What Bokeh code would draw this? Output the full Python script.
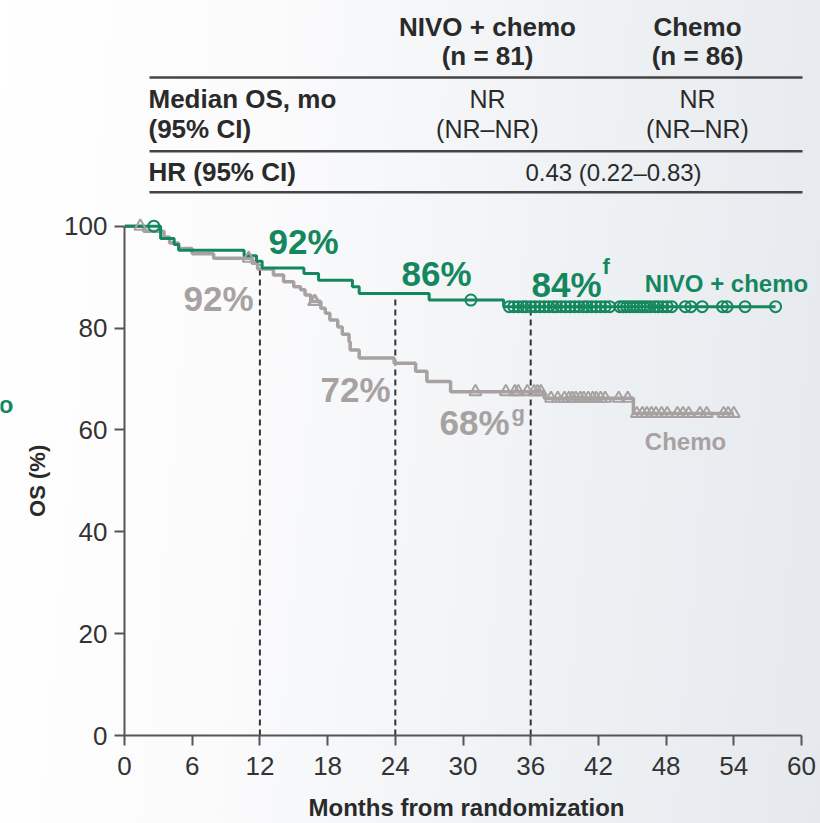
import numpy as np
from bokeh.plotting import figure
from bokeh.layouts import row
from bokeh.models import Range1d, Label, FixedTicker
from bokeh.core.properties import value
from bokeh.embed import file_html
from bokeh.resources import INLINE

# ---------------- data ----------------
nivo_time = [0, 3.2, 4.4, 4.8, 10.6, 11.7, 12.2, 15.9, 17.2, 20.2, 20.8, 27.0, 33.6, 57.7]
nivo_surv = [100, 97.6, 96.4, 95.3, 94.2, 93.1, 91.8, 90.7, 89.4, 88.1, 86.8, 85.5, 84.2, 84.2]
nivo_censor = [2.6, 30.7, 34.1, 34.5, 34.9, 35.3, 35.6, 36.0, 36.4, 36.8, 37.2, 37.6, 38.0,
               38.3, 38.7, 39.1, 39.5, 39.9, 40.3, 40.7, 41.0, 41.4, 41.8, 42.2, 42.6, 43.0,
               43.9, 44.2, 44.5, 44.8, 45.1, 45.4, 45.7, 46.0, 46.3, 46.6, 47.0, 47.3, 47.7,
               48.1, 48.5, 49.7, 50.2, 51.2, 53.0, 53.4, 55.0, 57.7]

chemo_time = [0, 1.7, 3.5, 4.0, 4.8, 6.0, 7.9, 11.3, 11.8, 13.2, 14.1, 15.0, 15.6, 16.0,
              16.5, 17.4, 17.8, 18.2, 18.9, 19.3, 19.9, 20.0, 20.8, 23.9, 25.8, 26.8, 28.9,
              37.2, 45.1, 54.0]
chemo_surv = [100, 99.0, 97.9, 96.7, 95.6, 94.6, 93.7, 92.7, 91.6, 90.4, 89.1, 88.1, 87.5,
              86.5, 85.2, 83.9, 82.9, 81.6, 80.2, 78.8, 77.3, 75.7, 74.1, 73.1, 71.5, 69.5,
              67.5, 66.2, 63.2, 63.2]
chemo_censor = [1.4, 11.0, 16.8, 16.9, 31.1, 33.8, 34.6, 34.9, 35.7, 36.3, 36.6, 36.9,
                37.8, 38.4, 39.0, 39.4, 39.7, 40.0, 40.4, 40.7, 41.1, 41.5, 41.8, 42.2, 42.6,
                43.8, 44.6, 45.4, 45.9, 46.3, 46.7, 47.1, 47.6, 48.1, 49.0, 49.5, 50.0, 51.0,
                51.6, 53.1, 53.5, 54.0]

landmark_months = [12, 24, 36]
nivo_landmark_labels = ["92%", "86%", "84%"]
chemo_landmark_labels = ["92%", "72%", "68%"]

x_ticks = [0, 6, 12, 18, 24, 30, 36, 42, 48, 54, 60]
y_ticks = [0, 20, 40, 60, 80, 100]

table_cols = ["NIVO + chemo", "Chemo"]
table_n = ["(n = 81)", "(n = 86)"]
median_os = ["NR", "NR"]
median_ci = ["(NR\u2013NR)", "(NR\u2013NR)"]
hr_text = "0.43 (0.22\u20130.83)"
y_title = "OS (%)"
x_title = "Months from randomization"

GREEN = "#15875f"
GRAY = "#a7a2a1"
DARK = "#2a2a2a"
AXIS = "#555555"
FONT = "Liberation Sans"


def step_xy(t, s):
    xs, ys = [t[0]], [s[0]]
    for i in range(1, len(t)):
        xs += [t[i], t[i]]
        ys += [s[i - 1], s[i]]
    return xs, ys


def surv_at(t, s, q):
    t = np.asarray(t)
    s = np.asarray(s)
    idx = np.searchsorted(t, np.asarray(q), side="right") - 1
    return s[np.clip(idx, 0, len(s) - 1)]


# ------------- layout geometry -------------
H = 823
LEFT_W = 52
MAIN_W = 820 - LEFT_W
PX_PER_X = 677 / 60
PX_PER_Y = 5.1
FRAME_LEFT, FRAME_RIGHT, FRAME_BOTTOM = 124, 808, 736   # page pixels

# strip on the far left: y-axis title and clipped label from the neighbouring panel
left = figure(width=LEFT_W, height=H, output_backend="svg", toolbar_location=None,
              x_range=Range1d(0, LEFT_W), y_range=Range1d(0, FRAME_BOTTOM),
              x_axis_type=None, y_axis_type=None, min_border=0,
              min_border_bottom=H - FRAME_BOTTOM)
left.background_fill_alpha = 0
left.border_fill_alpha = 0
left.outline_line_color = None
left.grid.visible = False
left.text(x=[13], y=[FRAME_BOTTOM - 405], text=[table_cols[0]], text_align="right",
          text_baseline="middle", text_font=value(FONT), text_font_size="24px",
          text_font_style="bold", text_color=GREEN)
left.text(x=[37], y=[FRAME_BOTTOM - 481], text=[y_title], angle=np.pi / 2,
          text_align="center", text_baseline="middle", text_font=value(FONT),
          text_font_size="22px", text_font_style="bold", text_color=DARK)

p = figure(width=MAIN_W, height=H, output_backend="svg", toolbar_location=None,
           x_range=Range1d(0, (FRAME_RIGHT - FRAME_LEFT) / PX_PER_X),
           y_range=Range1d(0, FRAME_BOTTOM / PX_PER_Y),
           min_border_left=FRAME_LEFT - LEFT_W, min_border_right=820 - FRAME_RIGHT,
           min_border_top=0, min_border_bottom=H - FRAME_BOTTOM)
p.background_fill_alpha = 0
p.border_fill_alpha = 0
p.outline_line_color = None
p.grid.visible = False

for ax in (p.xaxis[0], p.yaxis[0]):
    ax.axis_line_color = AXIS
    ax.axis_line_width = 2
    ax.major_tick_line_color = AXIS
    ax.major_tick_line_width = 2
    ax.major_tick_out = 10
    ax.major_tick_in = 0
    ax.minor_tick_line_color = None
    ax.major_label_text_font = FONT
    ax.major_label_text_font_size = "26px"
    ax.major_label_text_color = "#333333"
    ax.axis_label_text_font = FONT
    ax.axis_label_text_font_style = "bold"
    ax.axis_label_text_color = DARK

p.xaxis.ticker = FixedTicker(ticks=x_ticks)
p.xaxis.bounds = (0, 60)
p.xaxis.major_label_standoff = 11
p.xaxis.axis_label = x_title
p.xaxis.axis_label_text_font_size = "24px"
p.xaxis.axis_label_standoff = 16
p.yaxis.ticker = FixedTicker(ticks=y_ticks)
p.yaxis.bounds = (0, 100)
p.yaxis.major_label_standoff = 7

# landmark dashed lines
lm_y = surv_at(nivo_time, nivo_surv, landmark_months)
p.segment(x0=landmark_months, y0=[0] * 3, x1=landmark_months, y1=list(lm_y - 0.6),
          line_color="#333333", line_width=2, line_dash="6 4")

# curves
cx, cy = step_xy(chemo_time, chemo_surv)
p.line(cx, cy, line_color=GRAY, line_width=3.5)
nx, ny = step_xy(nivo_time, nivo_surv)
p.line(nx, ny, line_color=GREEN, line_width=3)

p.scatter(chemo_censor, surv_at(chemo_time, chemo_surv, chemo_censor), marker="triangle",
          size=12, fill_alpha=0, line_color=GRAY, line_width=2)
p.scatter(nivo_censor, surv_at(nivo_time, nivo_surv, nivo_censor), marker="circle",
          size=11, fill_alpha=0, line_color=GREEN, line_width=2)


def lab(x, y, text, size, color, bold=True, align="center", baseline="middle"):
    p.add_layout(Label(x=x, y=y, text=text, text_font=FONT, text_font_size=size,
                       text_color=color, text_font_style="bold" if bold else "normal",
                       text_align=align, text_baseline=baseline))


def px(xp):
    return (xp - FRAME_LEFT) / PX_PER_X


def py(yp):
    return (FRAME_BOTTOM - yp) / PX_PER_Y


# landmark percentage labels
lab(px(303), py(241), nivo_landmark_labels[0], "35px", GREEN)
lab(px(436), py(273), nivo_landmark_labels[1], "35px", GREEN)
lab(px(566), py(284), nivo_landmark_labels[2], "35px", GREEN)
lab(px(602), py(266), "f", "22px", GREEN, align="left")
lab(px(218), py(298), chemo_landmark_labels[0], "35px", GRAY)
lab(px(355), py(390), chemo_landmark_labels[1], "35px", GRAY)
lab(px(474), py(423), chemo_landmark_labels[2], "35px", GRAY)
lab(px(511), py(414), "g", "22px", GRAY, align="left")

# arm labels
lab(px(726), py(283), table_cols[0], "24px", GREEN)
lab(px(685), py(442), table_cols[1], "24px", GRAY)

# table
col_x = [px(487), px(697)]
for i in range(2):
    lab(col_x[i], py(27), table_cols[i], "26px", DARK)
    lab(col_x[i], py(56), table_n[i], "26px", DARK)
    lab(col_x[i], py(99), median_os[i], "25px", DARK, bold=False)
    lab(col_x[i], py(129), median_ci[i], "25px", DARK, bold=False)
lab(px(148), py(99), "Median OS, mo", "26px", DARK, align="left")
lab(px(148), py(129), "(95% CI)", "26px", DARK, align="left")
lab(px(148), py(172), "HR (95% CI)", "26px", DARK, align="left")
lab(px(613), py(172), hr_text, "24px", DARK, bold=False)

rule_y = [py(77), py(151), py(192)]
p.segment(x0=[px(149)] * 3, y0=rule_y, x1=[px(802)] * 3, y1=rule_y,
          line_color="#444444", line_width=2.5)

layout = row(left, p, spacing=0,
             styles={"background": "linear-gradient(95deg, #ffffff 0%, #fbfbfc 30%, #eef1f4 70%, #e5e9ed 100%)"})

open("out.html", "w").write(file_html(layout, INLINE))
